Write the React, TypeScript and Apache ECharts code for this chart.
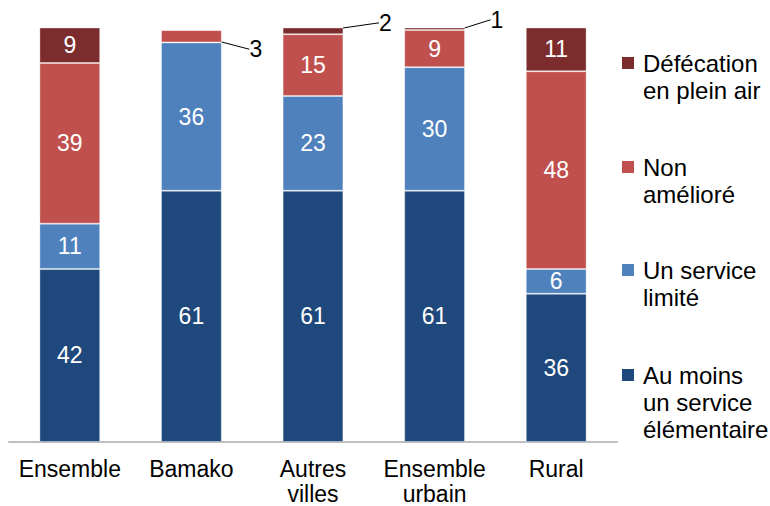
import React, { useEffect, useRef } from "react";
import * as echarts from "echarts";

const categories = ["Ensemble", "Bamako", "Autres\nvilles", "Ensemble\nurbain", "Rural"];
const seriesNames = [
  "Au moins\nun service\nélémentaire",
  "Un service\nlimité",
  "Non\namélioré",
  "Défécation\nen plein air",
];
const auMoins = [42, 61, 61, 61, 36];
const serviceLimite = [11, 36, 23, 30, 6];
const nonAmeliore = [39, 3, 15, 9, 48];
const defecation = [9, 0, 2, 1, 11];

const colors = ["#1F497D", "#4F81BD", "#C0504D", "#7D2C2E"];
const FONT = "'Liberation Sans', Arial, sans-serif";

// callout placement (dx from bar's right edge, dy from segment centre) for small segments
const callouts: Record<string, [number, number]> = {
  "2-1": [34, 13],
  "3-2": [42, -8],
  "3-3": [32, -9],
};

export default function App() {
  const ref = useRef<HTMLDivElement>(null);
  useEffect(() => {
    const chart = echarts.init(ref.current!, null, { renderer: "svg" });
    const all = [auMoins, serviceLimite, nonAmeliore, defecation];
    const series = all.map((vals, si) => ({
      name: seriesNames[si],
      type: "bar",
      stack: "total",
      barWidth: "50%",
      itemStyle: { color: colors[si], borderColor: "rgba(255,255,255,0.35)", borderWidth: 1 },
      label: {
        show: true,
        position: "inside",
        color: "#fff",
        fontSize: 23,
        fontFamily: FONT,
      },
      labelLayout: (p: any) => {
        const c = callouts[si + "-" + p.dataIndex];
        if (!c) return {};
        return {
          x: p.rect.x + p.rect.width + c[0],
          y: p.rect.y + p.rect.height / 2 + c[1],
          align: "center",
          verticalAlign: "middle",
        };
      },
      data: vals.map((v, di) => {
        if (v === 0) return { value: v, label: { show: false } };
        if (callouts[si + "-" + di])
          return {
            value: v,
            label: { show: true, position: "right", color: "#000" },
            labelLine: { show: true, lineStyle: { color: "#000", width: 1 } },
          };
        return v;
      }),
    }));

    const legendTops = [63, 167, 270, 375];
    const legendOrder = [3, 2, 1, 0];
    const graphic: any[] = [];
    legendOrder.forEach((si, i) => {
      const cy = legendTops[i];
      graphic.push({
        type: "rect",
        shape: { x: 622, y: cy - 6, width: 12, height: 12 },
        style: { fill: colors[si] },
      });
      graphic.push({
        type: "text",
        x: 643,
        y: cy - 13.5,
        style: {
          text: seriesNames[si],
          font: `24px ${FONT}`,
          lineHeight: 27,
          fill: "#000",
          verticalAlign: "top",
          align: "left",
        },
      });
    });

    chart.setOption({
      animation: false,
      grid: { left: 9, right: 153, top: 28, bottom: 64, outerBoundsMode: "none", containLabel: false },
      xAxis: {
        type: "category",
        data: categories,
        axisLine: { show: true, lineStyle: { color: "#BFBFBF", width: 2 } },
        axisTick: { show: false },
        axisLabel: {
          color: "#000",
          fontSize: 23,
          fontFamily: FONT,
          lineHeight: 25,
          margin: 14,
          interval: 0,
        },
      },
      yAxis: { type: "value", min: 0, max: 100.5, show: false, splitLine: { show: false } },
      series,
      graphic,
    });
    return () => chart.dispose();
  }, []);
  return (
    <div
      ref={ref}
      style={{ position: "fixed", left: 0, top: 0, width: 770, height: 506, background: "#fff" }}
    />
  );
}
